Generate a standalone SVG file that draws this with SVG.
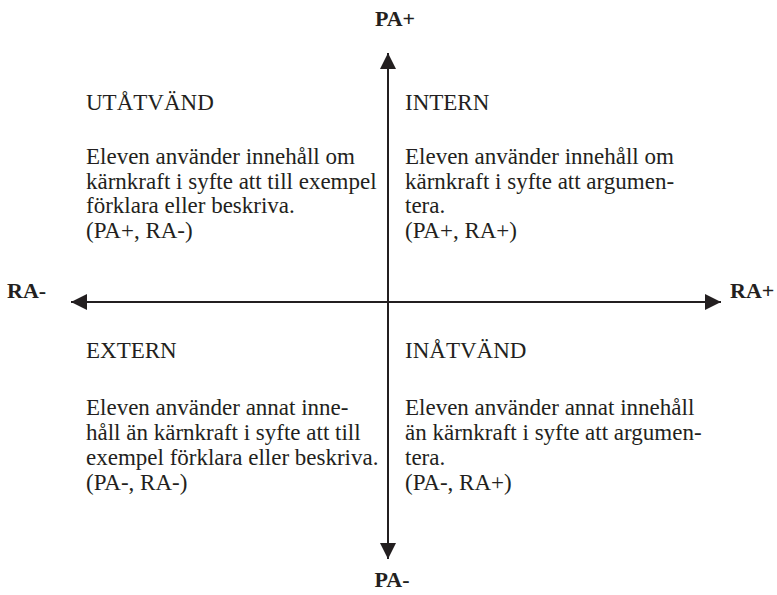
<svg xmlns="http://www.w3.org/2000/svg" width="777" height="595" viewBox="0 0 777 595">
<defs>
<style>
.t{font-family:"Liberation Serif","Times New Roman",serif;font-size:23px;fill:#231f20}
.b{font-family:"Liberation Serif","Times New Roman",serif;font-size:22px;font-weight:bold;fill:#231f20}
.ax{stroke:#231f20;stroke-width:2;fill:none}
</style>
<marker id="ah" viewBox="0 0 16 16" refX="16" refY="8" markerWidth="16" markerHeight="16" markerUnits="userSpaceOnUse" orient="auto-start-reverse">
<path d="M0,0 L16,8 L0,16 Z" fill="#231f20"/>
</marker>
</defs>
<rect width="777" height="595" fill="#ffffff"/>
<g id="connectors">
<line class="ax" x1="388" y1="559" x2="388" y2="53" marker-end="url(#ah)" marker-start="url(#ah)"/>
<line class="ax" x1="71" y1="302" x2="721" y2="302" marker-end="url(#ah)" marker-start="url(#ah)"/>
</g>
<g id="axis-labels">
<text class="b" x="395" y="26" text-anchor="middle">PA+</text>
<text class="b" x="392" y="587" text-anchor="middle">PA-</text>
<text class="b" x="7" y="298">RA-</text>
<text class="b" x="730" y="298">RA+</text>
</g>
<g id="utatvand">
<text class="t" x="86" y="110">UTÅTVÄND</text>
<text class="t" x="86" y="164">Eleven använder innehåll om</text>
<text class="t" x="86" y="189">kärnkraft i syfte att till exempel</text>
<text class="t" x="86" y="213">förklara eller beskriva.</text>
<text class="t" x="86" y="238">(PA+, RA-)</text>
</g>
<g id="intern">
<text class="t" x="405" y="110">INTERN</text>
<text class="t" x="405" y="164">Eleven använder innehåll om</text>
<text class="t" x="405" y="189">kärnkraft i syfte att argumen-</text>
<text class="t" x="405" y="213">tera.</text>
<text class="t" x="405" y="238">(PA+, RA+)</text>
</g>
<g id="extern">
<text class="t" x="86" y="358">EXTERN</text>
<text class="t" x="86" y="415">Eleven använder annat inne-</text>
<text class="t" x="86" y="440">håll än kärnkraft i syfte att till</text>
<text class="t" x="86" y="465">exempel förklara eller beskriva.</text>
<text class="t" x="86" y="490">(PA-, RA-)</text>
</g>
<g id="inatvand">
<text class="t" x="405" y="358">INÅTVÄND</text>
<text class="t" x="405" y="415">Eleven använder annat innehåll</text>
<text class="t" x="405" y="440">än kärnkraft i syfte att argumen-</text>
<text class="t" x="405" y="465">tera.</text>
<text class="t" x="405" y="490">(PA-, RA+)</text>
</g>
</svg>
